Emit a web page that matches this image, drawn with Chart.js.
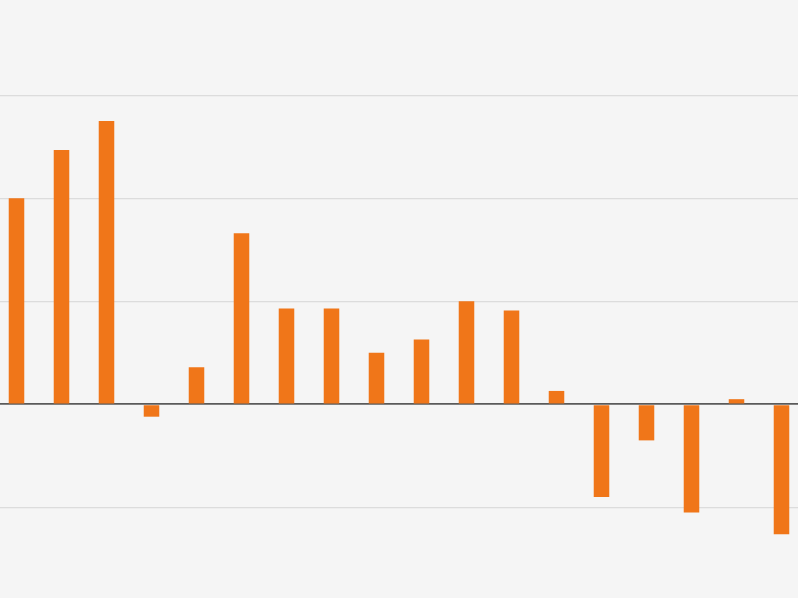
<!DOCTYPE html>
<html>
<head>
<meta charset="utf-8">
<script src="https://cdn.jsdelivr.net/npm/chart.js@4"></script>
<style>
html,body{margin:0;padding:0;background:#f5f5f5;overflow:hidden;width:798px;height:598px;}
#wrap{position:absolute;left:-6px;top:0;width:810px;height:598px;}
</style>
</head>
<body>
<div id="wrap"><canvas id="c"></canvas></div>
<script>
const categories = ["1","2","3","4","5","6","7","8","9","10","11","12","13","14","15","16","17","18"];
const values = [2.00, 2.47, 2.75, -0.12, 0.36, 1.66, 0.93, 0.93, 0.50, 0.63, 1.00, 0.91, 0.13, -0.90, -0.35, -1.05, 0.05, -1.26];
const gridTicks = [-1, 0, 1, 2, 3];

new Chart(document.getElementById('c'), {
  type: 'bar',
  data: {
    labels: categories,
    datasets: [{
      data: values,
      backgroundColor: '#f07619',
      borderWidth: 0,
      barPercentage: 0.345,
      categoryPercentage: 1
    }]
  },
  options: {
    responsive: true,
    maintainAspectRatio: false,
    animation: false,
    layout: { padding: 0 },
    plugins: { legend: { display: false }, tooltip: { enabled: false } },
    scales: {
      x: {
        display: true,
        offset: true,
        grid: { display: false, drawTicks: false },
        border: { display: false },
        ticks: { display: false }
      },
      y: {
        min: -1.880,
        max: 3.925,
        afterBuildTicks: (scale) => { scale.ticks = gridTicks.map(v => ({ value: v })); },
        grid: {
          drawTicks: false,
          color: (ctx) => ctx.tick && ctx.tick.value === 0 ? '#5a5a5a' : '#dcdcdc',
          lineWidth: (ctx) => ctx.tick && ctx.tick.value === 0 ? 1.8 : 1.2
        },
        border: { display: false },
        ticks: { display: false }
      }
    }
  }
});
</script>
</body>
</html>
